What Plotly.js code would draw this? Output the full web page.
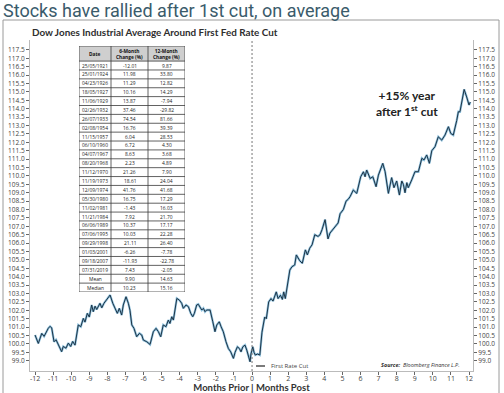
<!DOCTYPE html>
<html>
<head>
<meta charset="utf-8">
<script src="https://cdn.plot.ly/plotly-3.0.1.min.js"></script>
<style>html,body{margin:0;padding:0;background:#fff;}#chart{width:504px;height:393px;}</style>
</head>
<body>
<div id="chart"></div>
<script>
// ---- Data ----
const monthsFromCut = [
 -12.0,-11.82,-11.63,-11.5,-11.27,-11.17,-11.08,-10.95,-10.84,-10.71,-10.53,-10.44,-10.29,-10.16,-10.03,-9.92,-9.79,
 -9.61,-9.47,-9.33,-9.24,-9.11,-9.0,-8.87,-8.78,-8.68,-8.59,-8.41,-8.31,-8.19,-8.04,-7.85,-7.7,-7.58,-7.45,-7.34,
 -7.21,-7.12,-6.97,-6.84,-6.75,-6.65,-6.53,-6.38,-6.23,-6.1,-6.01,-5.82,-5.64,-5.46,-5.31,-5.18,-5.05,-4.91,-4.76,
 -4.63,-4.54,-4.44,-4.35,-4.16,-4.02,-3.89,-3.8,-3.65,-3.52,-3.39,-3.28,-3.19,-3.06,-2.97,-2.88,-2.78,-2.69,-2.6,
 -2.51,-2.32,-2.17,-2.05,-1.95,-1.81,-1.71,-1.59,-1.44,-1.31,-1.18,-1.03,-0.94,-0.81,-0.7,-0.61,-0.51,-0.39,-0.29,
 -0.2,-0.11,-0.06,0.04,0.11,0.18,0.3,0.43,0.55,0.63,0.7,0.79,0.92,1.05,1.16,1.34,1.44,1.57,1.68,1.75,1.84,2.09,
 2.21,2.36,2.45,2.64,2.78,2.95,3.06,3.19,3.32,3.47,3.65,3.76,3.87,4.04,4.2,4.31,4.46,4.59,4.76,4.87,5.05,5.2,5.31,
 5.42,5.6,5.79,5.88,6.01,6.16,6.25,6.34,6.53,6.68,6.86,6.99,7.23,7.36,7.54,7.72,7.85,8.0,8.15,8.28,8.37,8.46,8.56,
 8.64,8.74,8.83,9.01,9.2,9.39,9.51,9.66,9.81,9.94,10.12,10.3,10.49,10.67,10.86,10.99,11.13,11.32,11.41,11.5,11.6,
 11.73,11.87,12.0,12.07
];
const djiIndex = [
 100.53,100.03,100.63,100.45,100.93,101.05,100.95,100.13,100.25,99.95,99.54,99.85,99.75,100.05,99.85,100.15,99.93,
 101.13,101.03,101.52,101.3,101.82,101.6,102.32,101.92,102.25,102.05,102.42,102.15,102.42,102.61,102.91,102.42,102.1,101.82,102.12,
 101.72,102.32,102.81,102.42,102.0,101.13,100.93,100.43,100.63,100.53,100.23,100.13,99.97,100.73,100.93,100.73,100.43,101.13,101.03,
 101.42,101.22,101.62,101.42,102.71,102.61,102.42,102.12,102.32,102.22,101.82,101.62,101.82,102.32,102.36,102.22,102.02,102.12,101.92,
 102.02,102.02,101.32,100.73,101.13,101.32,101.02,100.73,100.13,99.73,99.53,99.14,99.5,99.83,99.73,99.53,99.83,99.93,99.63,
 99.23,98.94,99.4,99.83,99.5,99.34,99.4,99.34,100.7,101.1,101.6,101.5,102.5,102.7,102.55,103.1,102.7,102.9,102.65,103.1,102.7,104.4,
 104.6,104.7,105.3,104.95,104.8,105.6,105.3,105.7,105.9,106.5,106.4,106.5,106.8,107.4,106.25,106.6,106.8,107.0,107.2,107.75,108.0,108.5,108.6,
 108.76,109.16,108.96,109.4,109.95,110.25,109.95,110.35,109.85,109.95,109.36,110.05,110.75,110.25,108.96,109.9,109.3,109.7,108.86,109.7,109.5,109.0,109.6,
 109.3,109.5,109.76,110.25,110.25,111.05,110.95,111.25,110.75,111.5,111.74,112.33,112.13,112.43,112.93,112.53,112.43,113.3,113.82,113.82,114.4,
 115.15,114.7,114.22,114.4
];
const cutMonth = 0;

const xTickVals = [-12,-11,-10,-9,-8,-7,-6,-5,-4,-3,-2,-1,0,1,2,3,4,5,6,7,8,9,10,11,12];
const xTickLabels = xTickVals.map(v => String(v));
const yTickVals = [];
for (let v = 99.0; v <= 117.5001; v += 0.5) yTickVals.push(Math.round(v*10)/10);
const yTickLabels = yTickVals.map(v => v.toFixed(1));

const tableDates = ['25/05/1921','25/01/1924','04/23/1926','18/05/1927','11/06/1929','02/26/1932','26/07/1933',
 '02/08/1954','11/15/1957','06/10/1960','04/07/1967','08/20/1968','11/12/1970','11/19/1973','12/09/1974',
 '05/30/1980','11/02/1981','11/21/1984','06/06/1989','07/06/1995','09/29/1998','01/03/2001','09/18/2007',
 '07/31/2019','Mean','Median'];
const sixMonthChange = [-12.01,11.98,11.29,10.16,13.87,37.46,74.54,16.76,6.04,6.72,8.63,2.23,21.26,18.61,41.76,
 16.75,-1.43,7.92,10.37,10.03,21.11,-6.26,-11.93,7.43,9.90,10.23];
const twelveMonthChange = [9.87,33.80,12.82,14.29,-7.94,-29.82,81.66,39.39,28.53,4.30,3.68,4.89,7.90,24.04,41.68,
 17.29,16.03,21.70,17.17,22.28,26.40,-7.78,-22.78,-2.05,14.63,15.16];
const tableHeader = ['Date','6-Month<br>Change (%)','12-Month<br>Change (%)'];

// ---- Geometry helpers (pixel layout of the frame) ----
const W = 504, H = 393, ML = 30, MR = 31, MT = 40, MB = 22;
const PW = W - ML - MR, PH = H - MT - MB;
const px = x => (x - ML) / PW;
const py = y => (H - MB - y) / PH;
const fmt = v => v.toFixed(2);

// Table grid on its own hidden axes (x3/y3): column edges in width units, rows in row units
const colEdges = [0, 32, 69, 106];
const headerRows = 1.7;
const nRows = tableDates.length;
const rowTop = i => headerRows + i;
const tableBottom = headerRows + nRows;
const colCenter = c => (colEdges[c] + colEdges[c+1]) / 2;

const gridX = [], gridY = [];
for (let i = 0; i <= nRows; i++) { gridX.push(0, colEdges[3], null); gridY.push(rowTop(i), rowTop(i), null); }
for (const c of colEdges) { gridX.push(c, c, null); gridY.push(0, tableBottom, null); }
gridX.push(0, colEdges[3]); gridY.push(0, 0);

const tableColumns = [tableDates, sixMonthChange.map(fmt), twelveMonthChange.map(fmt)];
const tableAnnotations = [];
tableHeader.forEach((h, c) => tableAnnotations.push({
  text:'<b>'+h+'</b>', xref:'x3', yref:'y3', x:colCenter(c), y:headerRows/2, showarrow:false,
  xanchor:'center', yanchor:'middle', align:'center',
  font:{family:'Open Sans, sans-serif', size:4.8, color:'#111'}}));
tableColumns.forEach((col, c) => col.forEach((v, i) => tableAnnotations.push({
  text:v, xref:'x3', yref:'y3', x:colCenter(c), y:rowTop(i)+0.5, showarrow:false,
  xanchor:'center', yanchor:'middle',
  font:{family:'Open Sans, sans-serif', size:4.9, color:'#222'}})));

const traces = [
 {type:'scatter', mode:'lines', x:monthsFromCut, y:djiIndex, xaxis:'x', yaxis:'y',
  line:{color:'#8fc0dc', width:2.3}, hoverinfo:'skip', showlegend:false},
 {type:'scatter', mode:'lines', x:monthsFromCut, y:djiIndex, xaxis:'x', yaxis:'y2',
  line:{color:'#1d3446', width:1.0}, showlegend:false},
 {type:'scatter', mode:'lines', x:gridX, y:gridY, xaxis:'x3', yaxis:'y3', connectgaps:false,
  line:{color:'#3a3a3a', width:0.8}, hoverinfo:'skip', showlegend:false}
];

const yRange = [98.39, 118.09];
const xRange = [-12.28, 12.22];
const tickFont = {family:'Open Sans, sans-serif', size:6.5, color:'#444'};

const layout = {
 width:W, height:H,
 margin:{l:ML, r:MR, t:MT, b:MB, pad:0},
 paper_bgcolor:'#ffffff', plot_bgcolor:'rgba(0,0,0,0)',
 showlegend:false,
 title:{text:'Stocks have rallied after 1st cut, on average',
   font:{family:'Liberation Sans Narrow, Roboto, sans-serif', size:18, color:'#3a5b6b'},
   x:0.006, xanchor:'left', xref:'container', y:1-11/393, yanchor:'middle', yref:'container'},
 xaxis:{range:xRange, tickvals:xTickVals, ticktext:xTickLabels, ticks:'outside', ticklen:3, tickcolor:'#666',
   showgrid:false, zeroline:false, showline:true, linecolor:'#bbb', linewidth:1, tickfont:{...tickFont, size:7},
   ticklabelstandoff:-2,
   title:{text:'<b>Months Prior | Months Post</b>', font:{family:'Liberation Sans Narrow, Lato, sans-serif', size:9.5, color:'#333'}, standoff:0},
   automargin:false, fixedrange:true},
 yaxis:{range:yRange, tickvals:yTickVals, ticktext:yTickLabels, ticks:'outside', ticklen:3, tickcolor:'#666',
   showgrid:false, zeroline:false, showline:true, linecolor:'#bbb', linewidth:1, tickfont:tickFont,
   automargin:false, fixedrange:true},
 yaxis2:{range:yRange, overlaying:'y', side:'right', tickvals:yTickVals, ticktext:yTickLabels, ticks:'outside', ticklen:3,
   tickcolor:'#666', showgrid:false, zeroline:false, showline:true, linecolor:'#bbb', linewidth:1, tickfont:tickFont,
   automargin:false, fixedrange:true},
 xaxis3:{domain:[px(79), px(185)], range:[colEdges[0], colEdges[3]], anchor:'y3', visible:false, fixedrange:true},
 yaxis3:{domain:[py(292), py(46)], range:[tableBottom, 0], anchor:'x3', visible:false, fixedrange:true},
 shapes:[
  {type:'rect', xref:'paper', yref:'paper', x0:px(3), x1:px(499), y0:py(410), y1:py(20),
   line:{color:'#9a9a9a', width:1}, fillcolor:'rgba(0,0,0,0)', layer:'below'},
  {type:'rect', xref:'x3', yref:'y3', x0:colEdges[0], x1:colEdges[3], y0:0, y1:headerRows,
   fillcolor:'#cfcfcf', line:{width:0}, layer:'below'},
  {type:'line', xref:'x', yref:'paper', x0:cutMonth, x1:cutMonth, y0:0, y1:1,
   line:{color:'#777', width:1, dash:'2px,2px'}},
  {type:'line', xref:'paper', yref:'paper', x0:px(256), x1:px(265), y0:py(366), y1:py(366),
   line:{color:'#333', width:1.3}}
 ],
 annotations:[
  {text:'<b>Dow Jones Industrial Average Around First Fed Rate Cut</b>', xref:'paper', yref:'paper',
   x:px(30), y:py(32), xanchor:'left', yanchor:'middle', showarrow:false,
   font:{family:'Lato, sans-serif', size:9.9, color:'#2e2e2e'}},
  {text:'<b>+15% year<br>after 1<sup>st</sup> cut</b>', xref:'paper', yref:'paper',
   x:px(407), y:py(103), xanchor:'center', yanchor:'middle', showarrow:false, align:'center',
   font:{family:'Lato, sans-serif', size:12, color:'#222'}},
  {text:'First Rate Cut', xref:'paper', yref:'paper', x:px(269), y:py(366), xanchor:'left', yanchor:'middle',
   showarrow:false, font:{family:'Open Sans, sans-serif', size:6, color:'#444'}},
  {text:'<b><i>Source:</i></b>  <i>Bloomberg Finance L.P.</i>', xref:'paper', yref:'paper', x:px(462), y:py(365),
   xanchor:'right', yanchor:'middle', showarrow:false, font:{family:'Open Sans, sans-serif', size:5.5, color:'#333'}},
  ...tableAnnotations
 ]
};

Plotly.newPlot('chart', traces, layout, {staticPlot:true, displayModeBar:false});
</script>
</body>
</html>
